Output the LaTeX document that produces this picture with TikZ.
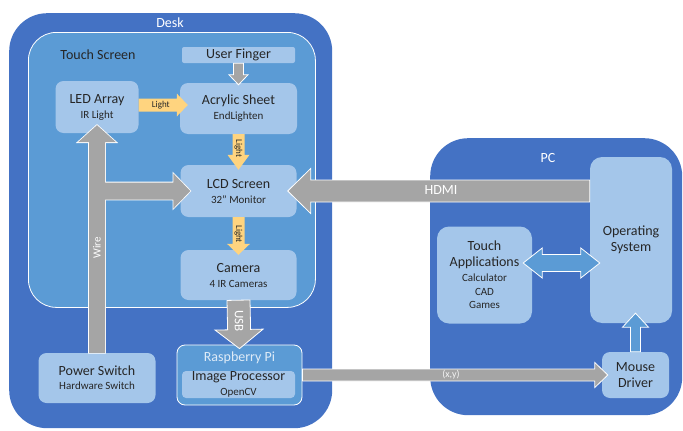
\documentclass[tikz,border=0pt]{standalone}
\usepackage{fontspec}
\setmainfont{Carlito}
\usetikzlibrary{calc}

\definecolor{deskblue}{HTML}{4472C4}
\definecolor{panelblue}{HTML}{5B9BD5}
\definecolor{boxblue}{HTML}{A4C6EA}
\definecolor{pipe}{HTML}{A5A5A5}
\definecolor{glow}{HTML}{FFD47F}
\definecolor{ink}{HTML}{262626}
\definecolor{pale}{HTML}{DEEBF7}

\newcommand\mainf{\fontsize{14}{16}\selectfont}
\newcommand\subf{\fontsize{11}{14}\selectfont}
\newcommand\tagf{\fontsize{9}{10}\selectfont}

% block arrow: style, start, tip, shaft half width, head half width, head length
\newcommand\blockarrow[6]{%
  \coordinate (ba-s) at (#2);
  \coordinate (ba-e) at (#3);
  \coordinate (ba-b) at ($(ba-e)!#6!(ba-s)$);
  \path[#1] ($(ba-s)!#4!90:(ba-e)$) -- ($(ba-b)!#4!-90:(ba-s)$)
    -- ($(ba-b)!#5!-90:(ba-s)$) -- (ba-e) -- ($(ba-b)!#5!90:(ba-s)$)
    -- ($(ba-b)!#4!90:(ba-s)$) -- ($(ba-s)!#4!-90:(ba-e)$) -- cycle;}

% double-headed block arrow: style, tip A, tip B, shaft half, head half, head length
\newcommand\dblarrow[6]{%
  \coordinate (da-a) at (#2);
  \coordinate (da-b) at (#3);
  \coordinate (da-p) at ($(da-a)!#6!(da-b)$);
  \coordinate (da-q) at ($(da-b)!#6!(da-a)$);
  \path[#1] (da-a) -- ($(da-p)!#5!90:(da-b)$) -- ($(da-p)!#4!90:(da-b)$)
    -- ($(da-q)!#4!-90:(da-a)$) -- ($(da-q)!#5!-90:(da-a)$) -- (da-b)
    -- ($(da-q)!#5!90:(da-a)$) -- ($(da-q)!#4!90:(da-a)$)
    -- ($(da-p)!#4!-90:(da-b)$) -- ($(da-p)!#5!-90:(da-b)$) -- cycle;}

\begin{document}
\begin{tikzpicture}[x=1pt,y=-1pt,
  zone/.style={rectangle, fill=deskblue, inner sep=0pt, anchor=north west},
  panel/.style={rectangle, fill=panelblue, draw=white, line width=0.8pt, inner sep=0pt, anchor=north west},
  unit/.style={rectangle, fill=boxblue, rounded corners=8pt, inner sep=0pt, text=ink, align=center, font=\mainf},
  txt/.style={inner sep=0pt, text=ink},
  pipearrow/.style={fill=pipe, draw=white, line width=0.8pt, line join=miter},
  pipeedge/.style={draw=white, line width=1.6pt, line join=miter},
  pipefill/.style={fill=pipe},
  lightarrow/.style={fill=glow},
  bluearrow/.style={fill=panelblue, draw=white, line width=0.8pt, line join=miter}]
\useasboundingbox (0,0) rectangle (683,431);

% enclosures
\node[zone, rounded corners=38pt, minimum width=323pt, minimum height=415pt] (desk) at (9,13) {};
\node[zone, rounded corners=38pt, minimum width=252pt, minimum height=277pt] (pc) at (430,138) {};
\node[panel, rounded corners=28pt, minimum width=287pt, minimum height=275pt] (touch) at (28,32) {};

% touch screen parts
\node[unit, rounded corners=2pt, minimum width=113pt, minimum height=16pt] (finger) at (238.5,55) {User Finger};
\node[unit, minimum width=83pt, minimum height=52pt] (led) at (97,107) {LED Array\\[-1pt]\subf IR Light};
\node[unit, minimum width=117pt, minimum height=51pt] (acr) at (238.5,108.5) {Acrylic Sheet\\[-1pt]\subf EndLighten};
\node[unit, minimum width=116pt, minimum height=52pt] (lcd) at (238.5,191) {LCD Screen\\[-1pt]\subf 32” Monitor};
\node[unit, minimum width=116pt, minimum height=50pt] (cam) at (238.5,275) {Camera\\[-1pt]\subf 4 IR Cameras};

% desk parts
\node[unit, minimum width=117pt, minimum height=50pt] (power) at (97,378) {Power Switch\\[-2pt]\subf Hardware Switch};
\node[rectangle, fill=panelblue, draw=white, line width=0.8pt, rounded corners=8pt, minimum width=125pt, minimum height=60pt, inner sep=0pt] (rpi) at (239.5,375) {};
\node[unit, rounded corners=4pt, minimum width=113pt, minimum height=27pt] (imgproc) at (238.5,384.5) {Image Processor\\[-1pt]\subf OpenCV};

% pc parts
\node[unit, rounded corners=12pt, minimum width=95pt, minimum height=97pt] (apps) at (484.5,275) {Touch\\Applications\\[-1pt]\subf Calculator\\[-2pt]\subf CAD\\[-3pt]\subf Games};
\node[unit, rounded corners=12pt, minimum width=82pt, minimum height=166pt] (os) at (631,240) {Operating\\System};
\node[unit, minimum width=67pt, minimum height=46pt] (mouse) at (635.5,375) {Mouse\\Driver};

% titles
\node[txt, text=white] (desktitle) at (170,23) {\mainf Desk};
\node[txt] (touchtitle) at (98,55) {\mainf Touch Screen};
\node[txt, text=white] (pctitle) at (548,158) {\mainf PC};
\node[txt, text=pale] (rpititle) at (239.5,358) {\mainf Raspberry Pi};

% helper points for the connectors
\coordinate (fingertip) at ([yshift=-2pt]acr.north);
\coordinate (ledout) at ([yshift=2pt]led.east);
\coordinate (acrin) at ([xshift=8pt]acr.west |- ledout);
\coordinate (lcdtop) at ([yshift=-5pt]lcd.north);
\coordinate (camtop) at ([yshift=-5pt]cam.north);
\coordinate (rpitop) at ([yshift=-4pt]rpi.north);
\coordinate (ledbottom) at ([yshift=8pt]led.south);
\coordinate (wirejoint) at (power.north |- lcd.west);
\coordinate (lcdleft) at ([xshift=10pt]lcd.west);
\coordinate (osout) at (os.west |- lcd.east);
\coordinate (lcdright) at ([xshift=-9pt]lcd.east);
\coordinate (rpiout) at (rpi.east);
\coordinate (mousein) at ([xshift=6pt]mouse.west |- rpi.east);
\coordinate (osbottom) at ([yshift=10pt]mouse.north |- os.south);
\coordinate (appsport) at ([xshift=-9pt,yshift=12pt]apps.east);
\coordinate (osport) at ([xshift=10pt]os.west |- appsport);

% wire from the power switch, with its branch to the LCD
\blockarrow{pipeedge}{wirejoint}{lcdleft}{8.5pt}{17.5pt}{17pt}
\blockarrow{pipeedge}{power.north}{ledbottom}{8pt}{19pt}{17pt}
\blockarrow{pipefill}{wirejoint}{lcdleft}{8.5pt}{17.5pt}{17pt}
\blockarrow{pipefill}{power.north}{ledbottom}{8pt}{19pt}{17pt}

% other connectors
\blockarrow{pipearrow}{finger.south}{fingertip}{5pt}{9.5pt}{10pt}
\blockarrow{lightarrow}{ledout}{acrin}{6.5pt}{11.5pt}{11pt}
\blockarrow{lightarrow}{acr.south}{lcdtop}{6pt}{11pt}{15pt}
\blockarrow{lightarrow}{lcd.south}{camtop}{6pt}{11.5pt}{11pt}
\blockarrow{pipearrow}{cam.south}{rpitop}{11.5pt}{24pt}{19pt}
\blockarrow{pipearrow}{osout}{lcdright}{11pt}{22.5pt}{23pt}
\blockarrow{pipearrow}{rpiout}{mousein}{6pt}{12.5pt}{13pt}
\blockarrow{bluearrow}{mouse.north}{osbottom}{5pt}{13pt}{14pt}
\dblarrow{bluearrow}{appsport}{osport}{8.5pt}{15pt}{19pt}

% connector labels
\node[txt] (light1) at ($(ledout)!0.45!(acrin)$) {\tagf Light};
\node[txt, rotate=-90] (light2) at ($(acr.south)!0.4!(lcdtop)$) {\tagf Light};
\node[txt, rotate=-90] (light3) at ($(lcd.south)!0.45!(camtop)$) {\tagf Light};
\node[txt, text=white, rotate=-90] (usb) at ($(cam.south)!0.43!(rpitop)$) {\fontsize{13}{14}\selectfont USB};
\node[txt, text=white, rotate=90] (wire) at (97,248) {\subf Wire};
\node[txt, text=white] (hdmi) at (441,190) {\mainf HDMI};
\node[txt, text=white!88!pipe] (xy) at (451,375) {\fontsize{10}{11}\selectfont (x,y)};
\end{tikzpicture}
\end{document}
